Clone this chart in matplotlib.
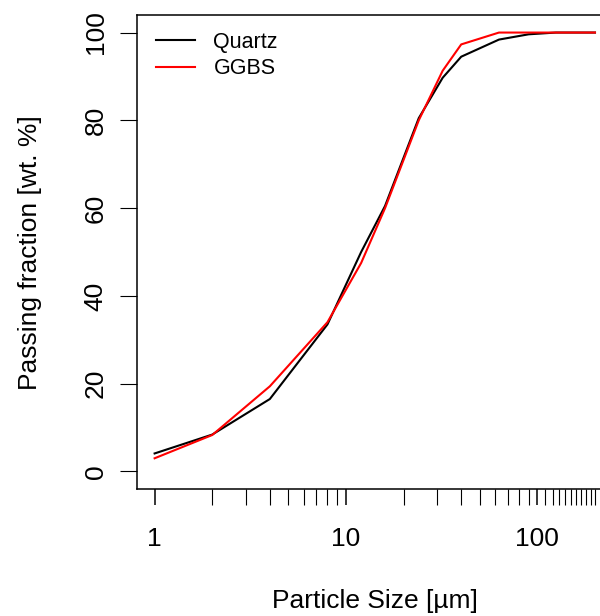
import numpy as np
import matplotlib.pyplot as plt
from matplotlib.ticker import FixedLocator, NullFormatter

plt.rcParams['font.family'] = ['Liberation Sans', 'DejaVu Sans']

# particle size classes [µm] and cumulative passing [wt. %]
size = [1, 2, 4, 8, 12, 16, 24, 32, 40, 63, 90, 125, 200]
quartz = [4.1, 8.4, 16.5, 33.5, 50.0, 60.5, 80.5, 89.7, 94.5, 98.4, 99.6, 100, 100]
ggbs = [3.0, 8.3, 19.4, 34.0, 47.5, 60.0, 80.0, 91.3, 97.3, 100, 100, 100, 100]

major_x = [1, 10, 100]
minor_x = list(range(2, 10)) + list(range(20, 100, 10)) + list(range(110, 210, 10))
y_ticks = [0, 20, 40, 60, 80, 100]

fig = plt.figure(figsize=(6, 6.16), dpi=100)
ax = fig.add_axes([137/600, 127/616, 475.6/600, 474/616])

ax.plot(size, quartz, color='black', lw=1.5, label='Quartz')
ax.plot(size, ggbs, color='#ff0000', lw=1.5, label='GGBS')

# log x axis, padded 4% on each side like R's default
ax.set_xscale('log')
lo, hi = 0, np.log10(200)
ext = 0.04 * (hi - lo)
ax.set_xlim(10 ** (lo - ext), 10 ** (hi + ext))
ax.set_ylim(-4, 104)

ax.xaxis.set_major_locator(FixedLocator(major_x))
ax.set_xticklabels([str(v) for v in major_x])
ax.xaxis.set_minor_locator(FixedLocator(minor_x))
ax.xaxis.set_minor_formatter(NullFormatter())
ax.tick_params(axis='x', which='major', length=11.5, width=1.1, pad=16, labelsize=19)
ax.tick_params(axis='x', which='minor', length=11.5, width=0.8)

ax.set_yticks(y_ticks)
ax.tick_params(axis='y', length=12, width=0.8, pad=9, labelsize=19)
for lab in ax.get_yticklabels():
    lab.set_rotation(90)
    lab.set_va('center')

for sp in ax.spines.values():
    sp.set_linewidth(1.1)

ax.legend(loc='upper left', frameon=False, fontsize=15.5, handlelength=1.8,
          handletextpad=0.85, labelspacing=0.25, bbox_to_anchor=(0.0, 1.005),
          borderaxespad=0.5)

fig.text(375/600, 1 - 601/616, 'Particle Size [µm]', ha='center', va='center', fontsize=19)
fig.text(30/600, 1 - 253/616, 'Passing fraction [wt. %]', ha='center', va='center',
         rotation=90, fontsize=19)

fig.savefig('out.png', dpi=100)
